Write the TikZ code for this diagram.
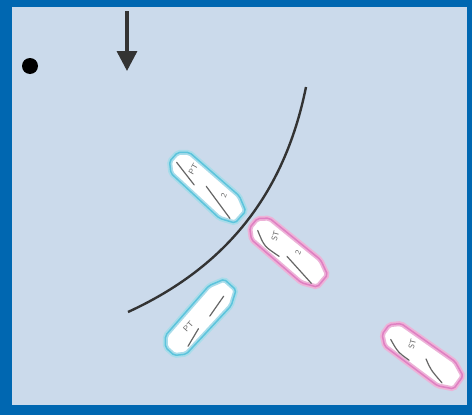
\documentclass[tikz,border=0pt]{standalone}
\usetikzlibrary{arrows.meta}

\definecolor{framecol}{HTML}{0067B1}
\definecolor{seacol}{HTML}{CBDAEB}
\definecolor{inkcol}{HTML}{333333}
\definecolor{pencol}{HTML}{666666}
\definecolor{ptlight}{HTML}{A8DCEA}
\definecolor{ptdark}{HTML}{5CC4DC}
\definecolor{stlight}{HTML}{EDB3D8}
\definecolor{stdark}{HTML}{E07FC2}

\tikzset{
  wind/.style={inkcol, line width=3.5pt, -{Triangle[length=20pt,width=20pt]}},
  zoneline/.style={inkcol, line width=2.4pt},
  pencil/.style={pencol, line width=1.2pt, line cap=round},
  tag/.style={pencol, font=\sffamily\footnotesize, inner sep=0pt},
  pics/hull/.style={code={
    \draw[line width=5pt, #1light, fill=white, rounded corners=2pt]
      (-45,-6) -- (-36,-14) -- (30,-15) -- (45,-8) -- (45,8) -- (30,15) -- (-36,14) -- (-45,6) -- cycle;
    \draw[line width=1.5pt, #1dark, rounded corners=2pt]
      (-45,-6) -- (-36,-14) -- (30,-15) -- (45,-8) -- (45,8) -- (30,15) -- (-36,14) -- (-45,6) -- cycle;
  }}
}

\begin{document}
\begin{tikzpicture}[x=1pt, y=1pt]
  \useasboundingbox (0,0) rectangle (472,-415);
  % frame and water
  \fill[framecol] (0,0) rectangle (472,-415);
  \fill[seacol] (12,-7) rectangle (467,-405);

  % wind and mark
  \coordinate (windtop) at (127,-11);
  \coordinate (windtip) at (127,-71);
  \draw[wind] (windtop) -- (windtip);
  \fill[black] (30,-66) circle (8);

  % zone line
  \coordinate (zonetop) at (306,-87);
  \coordinate (zoneend) at (128,-312);
  \draw[zoneline] (zonetop) .. controls (284,-196) and (224,-268) .. (zoneend);

  % boat 1 (port tack, upper)
  \begin{scope}[shift={(207,-187)}, rotate=-42]
    \pic[transform shape] {hull=pt};
    \draw[pencil] (-39,-2) .. controls (-28,-4) .. (-11,-7);
    \draw[pencil] (-1,0) -- (38,-8);
    \node[tag, rotate=60] (pt1) at (-22,4) {PT};
    \node[tag, rotate=70] (two1) at (18,5) {2};
  \end{scope}

  % boat 2 (starboard tack, upper)
  \begin{scope}[shift={(288,-252)}, rotate=-40]
    \pic[transform shape] {hull=st};
    \draw[pencil] (-37,-3) .. controls (-22,-11) .. (-4,-9);
    \draw[pencil] (2,-4) -- (38,-9);
    \node[tag, rotate=75] (st2) at (-20,4) {ST};
    \node[tag, rotate=70] (two2) at (8,6) {2};
  \end{scope}

  % boat 3 (port tack, lower)
  \begin{scope}[shift={(200,-318)}, rotate=48]
    \pic[transform shape] {hull=pt};
    \draw[pencil] (32,-3) -- (8,-6);
    \draw[pencil] (-9,-6) -- (-29,-10);
    \node[tag, rotate=48] (pt3) at (-14,3) {PT};
  \end{scope}

  % boat 4 (starboard tack, lower right)
  \begin{scope}[shift={(422,-356)}, rotate=-36]
    \pic[transform shape] {hull=st};
    \draw[pencil] (-35,-5) .. controls (-22,-11) .. (-8,-11);
    \draw[pencil] (5,0) .. controls (15,-6) .. (32,-10);
    \node[tag, rotate=75] (st4) at (-15,4) {ST};
  \end{scope}
\end{tikzpicture}
\end{document}
